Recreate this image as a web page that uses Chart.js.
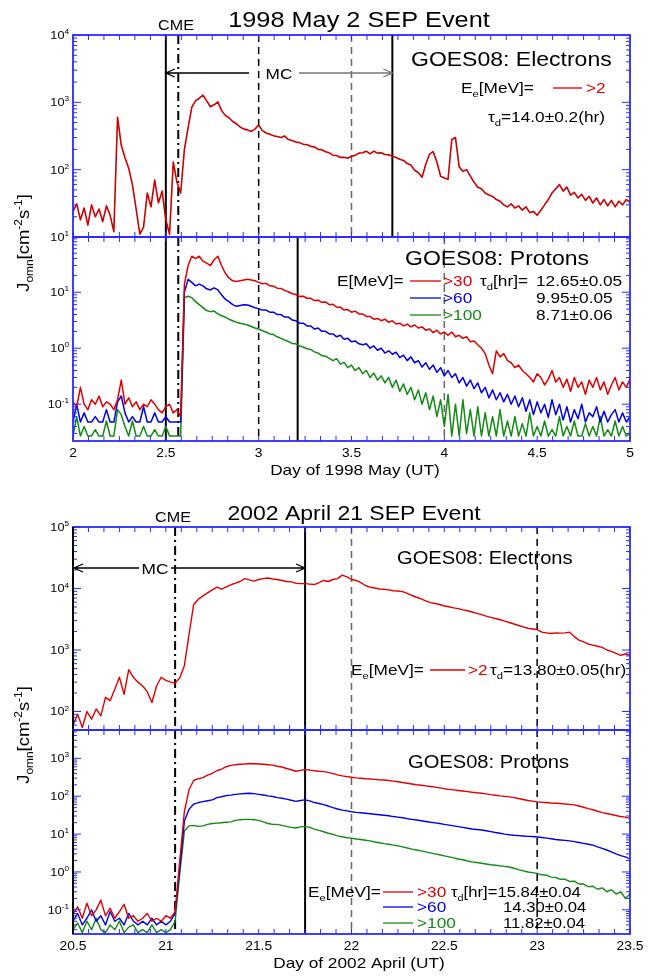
<!DOCTYPE html>
<html>
<head>
<meta charset="utf-8">
<script src="https://cdn.jsdelivr.net/npm/chart.js@4.4.0/dist/chart.umd.min.js"></script>
<style>
  body { margin: 0; background: #fff; }
  #wrap { position: relative; width: 653px; height: 980px; }
  canvas { position: absolute; left: 0; }
</style>
</head>
<body>
<div id="wrap">
  <canvas id="elec98" width="653" height="490" style="top:0"></canvas>
  <canvas id="prot98" width="653" height="490" style="top:0"></canvas>
  <canvas id="elec02" width="653" height="490" style="top:490px"></canvas>
  <canvas id="prot02" width="653" height="490" style="top:490px"></canvas>
</div>
<script>
// 1998 May 2 event, sampled every 0.02 day from day 2.00 to 5.00
const elec98 = [
  24, 31, 18, 27, 15, 30, 20, 26, 17, 29,
  21, 12, 600, 230, 150, 105, 60, 26, 11, 14,
  45, 28, 70, 32, 48, 18, 11, 130, 65, 45,
  200, 420, 850, 1050, 1150, 1280, 1050, 860, 920, 1020,
  760, 640, 590, 520, 480, 430, 400, 390, 370, 400,
  460, 380, 350, 335, 320, 310, 300, 315, 280, 272,
  258, 252, 238, 235, 222, 218, 200, 198, 184, 178,
  164, 162, 152, 153, 148, 158, 163, 176, 178, 188,
  172, 188, 176, 178, 168, 166, 158, 152, 143, 137,
  123, 117, 98, 90, 77, 120, 170, 185, 130, 80,
  75, 72, 280, 300, 110, 95, 100, 80, 65, 55,
  52, 45, 42, 40, 36, 34, 30, 28, 31, 27,
  29, 25, 28, 23, 24, 21, 25, 30, 36, 45,
  52, 60, 48, 55, 42, 46, 38, 43, 35, 40,
  32, 38, 30, 36, 29, 35, 28, 34, 30, 36,
  33
];
const p30_98 = [
  0.11, 0.09, 0.2, 0.1, 0.08, 0.12, 0.1, 0.14, 0.09, 0.11,
  0.1, 0.08, 0.12, 0.27, 0.1, 0.13, 0.09, 0.11, 0.08, 0.1,
  0.09, 0.12, 0.1, 0.08, 0.07, 0.09, 0.1, 0.07, 0.08, 0.06,
  14, 30, 44, 40, 44, 36, 33, 30, 38, 44,
  30, 22, 18, 16, 15.5, 16, 16.5, 17, 16.5, 16,
  15, 14.2, 14.4, 13, 12.8, 11.8, 11.7, 10.8, 10.2, 9.4,
  9.1, 8.4, 8.5, 7.8, 7.8, 7.1, 7.2, 6.6, 6.7, 6.0,
  6.1, 5.4, 5.4, 4.8, 4.9, 4.4, 4.6, 4.1, 4.1, 3.7,
  3.7, 3.3, 3.4, 3.1, 3.3, 2.9, 3.1, 2.7, 2.8, 2.5,
  2.7, 2.4, 2.6, 2.3, 2.4, 2.1, 2.2, 1.9, 2.1, 1.8,
  1.95, 1.7, 1.95, 1.6, 1.7, 1.5, 1.6, 1.3, 1.35, 1.15,
  1.0, 0.8, 0.5, 0.35, 0.9, 0.7, 0.8, 0.6, 0.55, 0.45,
  0.5, 0.4, 0.35, 0.3, 0.25, 0.35, 0.3, 0.22, 0.28, 0.4,
  0.25, 0.3, 0.2, 0.28, 0.17, 0.3, 0.2, 0.25, 0.15, 0.27,
  0.2, 0.3, 0.18, 0.25, 0.15, 0.22, 0.3, 0.18, 0.25, 0.2,
  0.28
];
const p60_98 = [
  0.048, 0.1, 0.048, 0.07, 0.048, 0.048, 0.06, 0.048, 0.048, 0.08,
  0.048, 0.048, 0.11, 0.14, 0.07, 0.048, 0.06, 0.048, 0.048, 0.09,
  0.048, 0.048, 0.07, 0.048, 0.048, 0.06, 0.048, 0.048, 0.048, 0.048,
  10, 17, 15, 13, 14, 13, 11.5, 11, 12, 11,
  9, 7.5, 6.8, 6, 5.6, 5.8, 6, 5.9, 5.6, 5.3,
  5.1, 4.8, 4.8, 4.4, 4.4, 4.0, 4.0, 3.6, 3.6, 3.2,
  3.1, 2.8, 2.8, 2.5, 2.5, 2.2, 2.3, 2.0, 2.0, 1.8,
  1.8, 1.6, 1.7, 1.45, 1.5, 1.3, 1.35, 1.2, 1.15, 1.2,
  1.0, 1.1, 0.92, 1.0, 0.82, 0.9, 0.78, 0.85, 0.68, 0.75,
  0.6, 0.7, 0.55, 0.6, 0.46, 0.55, 0.42, 0.5, 0.37, 0.45,
  0.32, 0.4, 0.3, 0.35, 0.24, 0.3, 0.21, 0.27, 0.19, 0.24,
  0.16, 0.2, 0.13, 0.18, 0.12, 0.16, 0.11, 0.15, 0.1, 0.14,
  0.09, 0.13, 0.075, 0.12, 0.065, 0.11, 0.07, 0.1, 0.058, 0.12,
  0.065, 0.1, 0.052, 0.09, 0.048, 0.08, 0.055, 0.1, 0.048, 0.07,
  0.06, 0.09, 0.048, 0.075, 0.048, 0.065, 0.08, 0.048, 0.07, 0.048,
  0.06
];
const p100_98 = [
  0.027, 0.06, 0.027, 0.04, 0.027, 0.027, 0.035, 0.027, 0.027, 0.05,
  0.027, 0.027, 0.08, 0.065, 0.04, 0.027, 0.05, 0.027, 0.027, 0.04,
  0.027, 0.027, 0.035, 0.027, 0.027, 0.04, 0.027, 0.027, 0.027, 0.027,
  8, 8.5, 8, 6.8, 6, 5.3, 4.7, 4.5, 4.6, 4.1,
  3.8, 3.6, 3.3, 3.1, 2.9, 2.8, 2.7, 2.6, 2.45, 2.3,
  2.2, 2.05, 1.95, 1.8, 1.75, 1.6, 1.5, 1.4, 1.32, 1.22,
  1.2, 1.1, 1.05, 0.98, 0.95, 0.86, 0.82, 0.74, 0.72, 0.66,
  0.6, 0.65, 0.52, 0.56, 0.45, 0.5, 0.4, 0.45, 0.35, 0.4,
  0.3, 0.36, 0.27, 0.32, 0.24, 0.3, 0.2, 0.27, 0.17, 0.23,
  0.15, 0.2, 0.12, 0.18, 0.1, 0.16, 0.08, 0.14, 0.06, 0.12,
  0.04, 0.15, 0.027, 0.1, 0.027, 0.12, 0.03, 0.08, 0.027, 0.09,
  0.027, 0.07, 0.027, 0.06, 0.027, 0.08, 0.027, 0.05, 0.027, 0.06,
  0.027, 0.045, 0.027, 0.07, 0.027, 0.04, 0.027, 0.05, 0.027, 0.035,
  0.027, 0.06, 0.027, 0.04, 0.027, 0.05, 0.027, 0.027, 0.045, 0.027,
  0.04, 0.027, 0.06, 0.027, 0.035, 0.027, 0.05, 0.027, 0.04, 0.027,
  0.03
];

// 2002 April 21 event, sampled every 0.025 day from day 20.5 to 23.5
const elec02 = [
  60, 90, 55, 100, 75, 110, 85, 170, 150, 230,
  360, 190, 480, 360, 300, 260, 210, 140, 260, 360,
  320, 300, 290, 350, 560, 1800, 5500, 6700, 7600, 8500,
  9500, 10500, 9800, 10600, 11500, 12200, 13000, 14500, 13800, 13200,
  14000, 14500, 14800, 14300, 14000, 13500, 13000, 12800, 12200, 12000,
  12000, 11800, 11600, 12500, 13500, 13000, 14000, 14500, 16500, 15500,
  14000, 13500, 12500, 11200, 10500, 10200, 9800, 9700, 9500, 9200,
  9100, 8900, 8300, 7700, 7200, 6800, 6300, 5900, 5700, 5500,
  5200, 5050, 4850, 4700, 4500, 4350, 4150, 3950, 3750, 3550,
  3400, 3250, 3100, 2950, 2800, 2650, 2500, 2380, 2260, 2200,
  2150, 1950, 1900, 1850, 1900, 1880, 1900, 1950, 1650, 1450,
  1350, 1250, 1200, 1150, 1100, 1000, 950, 880, 820, 860,
  820
];
const p30_02 = [
  0.08, 0.12, 0.06, 0.15, 0.07, 0.1, 0.18, 0.07, 0.11, 0.06,
  0.09, 0.14, 0.06, 0.07, 0.05, 0.06, 0.08, 0.05, 0.06, 0.05,
  0.07, 0.06, 0.09, 2, 40, 150, 260, 290, 310, 360,
  400, 470, 520, 600, 650, 680, 700, 710, 730, 720,
  710, 700, 680, 660, 620, 590, 540, 500, 455, 480,
  505, 490, 470, 455, 445, 425, 395, 365, 345, 330,
  316, 305, 298, 290, 285, 278, 272, 268, 260, 250,
  240, 230, 220, 210, 200, 195, 188, 180, 174, 166,
  158, 152, 147, 142, 137, 132, 127, 123, 120, 115,
  110, 106, 102, 99, 96, 92, 87, 82, 77, 74,
  71, 69, 68, 66, 65, 64, 62, 61, 59, 55,
  51, 47, 44, 40, 37, 35, 33, 31, 29, 28,
  26
];
const p60_02 = [
  0.05, 0.08, 0.04, 0.06, 0.1, 0.05, 0.07, 0.04, 0.09, 0.05,
  0.06, 0.04, 0.08, 0.05, 0.04, 0.05, 0.04, 0.06, 0.04, 0.05,
  0.04, 0.05, 0.08, 1.2, 22, 45, 62, 68, 72, 76,
  80, 92, 97, 104, 107, 112, 115, 118, 120, 117,
  112, 108, 102, 98, 92, 88, 84, 78, 73, 77,
  80, 75, 68, 64, 60, 55, 50, 46, 43, 41,
  39, 37.5, 36.5, 35.5, 34.5, 33.5, 32.5, 31.5, 30.5, 29,
  28, 27, 25.5, 24.5, 23.5, 22.5, 21.5, 20.5, 19.8, 19,
  18, 17.2, 16.5, 15.7, 15, 14.3, 13.6, 13.2, 12.8, 12.2,
  11.6, 11, 10.5, 10, 9.6, 9.3, 9.1, 8.9, 8.7, 8.6,
  8.4, 8.1, 7.8, 7.5, 7.2, 7, 6.8, 6.6, 6.3, 6,
  5.7, 5.4, 5.1, 4.6, 4.2, 3.8, 3.4, 3.0, 2.7, 2.5,
  2.2
];
const p100_02 = [
  0.03, 0.045, 0.025, 0.05, 0.03, 0.06, 0.03, 0.025, 0.04, 0.03,
  0.05, 0.025, 0.035, 0.04, 0.025, 0.03, 0.025, 0.04, 0.025, 0.03,
  0.025, 0.03, 0.05, 0.9, 12, 16.5, 17, 16, 16.5, 18,
  19, 19.5, 20, 20.5, 21, 23, 24, 24.5, 24.5, 24,
  23, 21, 19, 18, 18, 17, 16, 15, 14.5, 15.5,
  16, 15, 13.5, 12.5, 11.5, 10.5, 9.8, 9, 8.5, 8,
  7.8, 7.4, 7.2, 6.9, 6.6, 6.2, 5.9, 5.6, 5.4, 5.1,
  4.9, 4.6, 4.3, 4.0, 3.8, 3.6, 3.4, 3.2, 3.0, 2.85,
  2.65, 2.5, 2.35, 2.2, 2.1, 1.95, 1.85, 1.78, 1.7, 1.62,
  1.55, 1.5, 1.45, 1.4, 1.35, 1.25, 1.15, 1.07, 1.0, 0.96,
  0.92, 0.84, 0.82, 0.73, 0.72, 0.64, 0.64, 0.56, 0.57, 0.48,
  0.48, 0.41, 0.42, 0.35, 0.38, 0.3, 0.34, 0.26, 0.3, 0.2,
  0.26
];

const days98 = elec98.map((_, i) => 2 + i * 0.02);
const days02 = elec02.map((_, i) => 20.5 + i * 0.025);

const xTicks98 = [2, 2.5, 3, 3.5, 4, 4.5, 5];
const xTicks02 = [20.5, 21, 21.5, 22, 22.5, 23, 23.5];

// event markers: [day, line style]
const marks98e = [[2.5, 'solid'], [2.567, 'dashDot'], [3.0, 'dash'], [3.5, 'grayDash'], [3.72, 'solid']];
const marks98p = [[2.5, 'solid'], [2.567, 'dashDot'], [3.0, 'dash'], [3.21, 'solid'], [4.0, 'grayDash']];
const marks02 = [[20.5, 'solid'], [21.05, 'dashDot'], [21.75, 'solid'], [22.0, 'grayDash'], [23.0, 'dash']];

const FONT = '"Liberation Sans", Arial, sans-serif';
const SX = 1.15;
const AXIS = '#2b2bff';
const RED = '#e00000', BLUE = '#0000e6', GREEN = '#138a13';

const LINE = {
  solid: { color: '#000', w: 2, dash: [] },
  dash: { color: '#000', w: 1.5, dash: [7, 5] },
  grayDash: { color: '#666', w: 1.5, dash: [7, 5] },
  dashDot: { color: '#000', w: 2, dash: [9, 4, 2, 4] }
};

const T = (t, c) => ({ t, c });
const SUB = (t, c) => ({ t, c, sub: true });
const SUP = (t, c) => ({ t, c, sup: true });

// text with sub/superscripts, slightly widened
function rich(ctx, x, y, parts, size, align) {
  ctx.save();
  let w = 0;
  const items = parts.map(p => {
    const sz = (p.sub || p.sup) ? size * 0.65 : size;
    ctx.font = sz + 'px ' + FONT;
    const iw = ctx.measureText(p.t).width;
    w += iw;
    return Object.assign({ sz, iw }, p);
  });
  ctx.translate(x, y);
  ctx.scale(SX, 1);
  ctx.textAlign = 'left';
  ctx.textBaseline = 'alphabetic';
  let cx = align === 'right' ? -w : align === 'center' ? -w / 2 : 0;
  items.forEach(p => {
    ctx.font = p.sz + 'px ' + FONT;
    ctx.fillStyle = p.c || '#000';
    const dy = p.sub ? size * 0.28 : p.sup ? -size * 0.45 : 0;
    ctx.fillText(p.t, cx, dy);
    cx += p.iw;
  });
  ctx.restore();
}

function vline(chart, day, kind) {
  const ctx = chart.ctx, a = chart.chartArea, st = LINE[kind];
  const px = chart.scales.x.getPixelForValue(day);
  ctx.save();
  ctx.strokeStyle = st.color;
  ctx.lineWidth = st.w;
  ctx.setLineDash(st.dash);
  ctx.beginPath();
  ctx.moveTo(px, a.top);
  ctx.lineTo(px, a.bottom);
  ctx.stroke();
  ctx.restore();
}

function frame(chart) {
  const ctx = chart.ctx, a = chart.chartArea, xs = chart.scales.x, ys = chart.scales.y;
  ctx.save();
  ctx.strokeStyle = AXIS;
  ctx.lineWidth = 1.8;
  ctx.strokeRect(a.left, a.top, a.right - a.left, a.bottom - a.top);
  ctx.lineWidth = 1;
  ctx.beginPath();
  // two-hour ticks along top and bottom
  for (let k = 0; xs.min + k / 12 <= xs.max + 1e-9; k++) {
    const px = xs.getPixelForValue(xs.min + k / 12);
    ctx.moveTo(px, a.bottom); ctx.lineTo(px, a.bottom - 5);
    ctx.moveTo(px, a.top); ctx.lineTo(px, a.top + 5);
  }
  const lo = Math.floor(Math.log10(ys.min)), hi = Math.ceil(Math.log10(ys.max));
  for (let d = lo; d <= hi; d++) {
    for (let m = 1; m < 10; m++) {
      const v = m * Math.pow(10, d);
      if (v < ys.min || v > ys.max) continue;
      const py = ys.getPixelForValue(v), len = m === 1 ? 8 : 4;
      ctx.moveTo(a.left, py); ctx.lineTo(a.left + len, py);
      ctx.moveTo(a.right, py); ctx.lineTo(a.right - len, py);
    }
  }
  ctx.stroke();
  ctx.restore();
  for (let d = lo; d <= hi; d++) {
    const v = Math.pow(10, d);
    if (v < ys.min * 0.999 || v > ys.max * 1.001) continue;
    rich(ctx, 69, ys.getPixelForValue(v) + 4, [T('10'), SUP(String(d))], 11, 'right');
  }
}

function xLabels(chart, ticks, base, title, titleX) {
  const xs = chart.scales.x;
  ticks.forEach(t => rich(chart.ctx, xs.getPixelForValue(t), base, [T(String(t))], 12, 'center'));
  rich(chart.ctx, titleX, base + 18, [T(title)], 15, 'center');
}

function yTitle(ctx, cx, cy) {
  ctx.save();
  ctx.translate(cx, cy);
  ctx.rotate(-Math.PI / 2);
  rich(ctx, 0, 6, [T('J'), SUB('omn'), T('[cm'), SUP('-2'), T('s'), SUP('-1'), T(']')], 16, 'center');
  ctx.restore();
}

function arrow(ctx, x1, x2, y, color, head) {
  ctx.save();
  ctx.strokeStyle = color;
  ctx.lineWidth = 1.3;
  ctx.beginPath();
  ctx.moveTo(x1, y); ctx.lineTo(x2, y);
  if (head === 'left') { ctx.moveTo(x1 + 9, y - 4); ctx.lineTo(x1, y); ctx.lineTo(x1 + 9, y + 4); }
  if (head === 'right') { ctx.moveTo(x2 - 9, y - 4); ctx.lineTo(x2, y); ctx.lineTo(x2 - 9, y + 4); }
  ctx.stroke();
  ctx.restore();
}

function keyLine(ctx, x1, x2, y, color) {
  ctx.save();
  ctx.strokeStyle = color;
  ctx.lineWidth = 1.3;
  ctx.beginPath(); ctx.moveTo(x1, y); ctx.lineTo(x2, y); ctx.stroke();
  ctx.restore();
}

function series(days, vals, color, width) {
  return {
    data: vals.map((v, i) => ({ x: days[i], y: v })),
    borderColor: color,
    borderWidth: width,
    borderJoinStyle: 'round',
    pointRadius: 0,
    tension: 0
  };
}

function makePanel(id, pad, xRange, yRange, datasets, marks, after) {
  return new Chart(document.getElementById(id), {
    type: 'line',
    data: { datasets },
    options: {
      responsive: false,
      animation: false,
      devicePixelRatio: 1,
      events: [],
      layout: { padding: pad },
      plugins: { legend: { display: false }, tooltip: { enabled: false } },
      scales: {
        x: { type: 'linear', min: xRange[0], max: xRange[1], display: false },
        y: { type: 'logarithmic', min: yRange[0], max: yRange[1], display: false }
      }
    },
    plugins: [{
      id: 'panelDeco',
      beforeDatasetsDraw: c => marks.forEach(m => vline(c, m[0], m[1])),
      afterDraw: c => {
        frame(c);
        marks.filter(m => m[0] === c.scales.x.min).forEach(m => vline(c, m[0], m[1]));
        after(c);
      }
    }]
  });
}

// ---- 1998 May 2: electrons ----
makePanel('elec98', { left: 73, right: 23, top: 35, bottom: 253 }, [2, 5], [10, 10000],
  [series(days98, elec98, '#cc0000', 1.6)], marks98e, c => {
    const ctx = c.ctx, xs = c.scales.x;
    rich(ctx, 359, 27, [T('1998 May 2 SEP Event')], 22, 'center');
    rich(ctx, 176, 30, [T('CME')], 14, 'center');
    arrow(ctx, xs.getPixelForValue(2.5), 249, 73, '#000', 'left');
    rich(ctx, 279, 79, [T('MC')], 15, 'center');
    arrow(ctx, 299, xs.getPixelForValue(3.72), 73, '#777', 'right');
    rich(ctx, 411, 66, [T('GOES08: Electrons')], 20);
    rich(ctx, 461, 93, [T('E'), SUB('e'), T('[MeV]=')], 15);
    keyLine(ctx, 553, 582, 88, RED);
    rich(ctx, 586, 93, [T('>2', RED)], 15);
    rich(ctx, 488, 122, [T('\u03c4'), SUB('d'), T('=14.0\u00b10.2(hr)')], 15);
  });

// ---- 1998 May 2: protons ----
makePanel('prot98', { left: 73, right: 23, top: 237, bottom: 49 }, [2, 5], [0.022, 97],
  [series(days98, p30_98, RED, 1.5), series(days98, p60_98, BLUE, 1.5), series(days98, p100_98, GREEN, 1.5)],
  marks98p, c => {
    const ctx = c.ctx;
    rich(ctx, 405, 265, [T('GOES08: Protons')], 20);
    rich(ctx, 337, 286, [T('E[MeV]=')], 15);
    keyLine(ctx, 410, 441, 281, RED);
    rich(ctx, 443, 286, [T('>30', RED)], 15);
    rich(ctx, 480, 286, [T('\u03c4'), SUB('d'), T('[hr]=')], 15);
    rich(ctx, 536, 286, [T('12.65\u00b10.05')], 15);
    keyLine(ctx, 410, 441, 298, BLUE);
    rich(ctx, 443, 303, [T('>60', BLUE)], 15);
    rich(ctx, 536, 303, [T('9.95\u00b10.05')], 15);
    keyLine(ctx, 410, 441, 315, GREEN);
    rich(ctx, 443, 320, [T('>100', GREEN)], 15);
    rich(ctx, 536, 320, [T('8.71\u00b10.06')], 15);
    xLabels(c, xTicks98, 457, 'Day of 1998 May (UT)', 355);
    yTitle(ctx, 23, 243);
  });

// ---- 2002 April 21: electrons ----
makePanel('elec02', { left: 73, right: 23, top: 37, bottom: 250 }, [20.5, 23.5], [50, 100000],
  [series(days02, elec02, RED, 1.4)], marks02, c => {
    const ctx = c.ctx, xs = c.scales.x;
    rich(ctx, 354, 30, [T('2002 April 21 SEP Event')], 20, 'center');
    rich(ctx, 173, 32, [T('CME')], 14, 'center');
    arrow(ctx, 74, 139, 78, '#000', 'left');
    rich(ctx, 155, 84, [T('MC')], 15, 'center');
    arrow(ctx, 171, xs.getPixelForValue(21.75), 78, '#000', 'right');
    rich(ctx, 397, 74, [T('GOES08: Electrons')], 17.5);
    rich(ctx, 351, 185, [T('E'), SUB('e'), T('[MeV]=')], 15);
    keyLine(ctx, 430, 465, 180, RED);
    rich(ctx, 468, 185, [T('>2', RED)], 15);
    rich(ctx, 490, 185, [T('\u03c4'), SUB('d'), T('=13.80\u00b10.05(hr)')], 15);
  });

// ---- 2002 April 21: protons ----
makePanel('prot02', { left: 73, right: 23, top: 240, bottom: 46 }, [20.5, 23.5], [0.023, 5600],
  [series(days02, p30_02, RED, 1.4), series(days02, p60_02, BLUE, 1.4), series(days02, p100_02, GREEN, 1.4)],
  marks02, c => {
    const ctx = c.ctx;
    rich(ctx, 408, 278, [T('GOES08: Protons')], 17.5);
    rich(ctx, 308, 407, [T('E'), SUB('e'), T('[MeV]=')], 15);
    keyLine(ctx, 383, 413, 402, RED);
    rich(ctx, 417, 407, [T('>30', RED)], 15);
    rich(ctx, 451, 407, [T('\u03c4'), SUB('d'), T('[hr]=15.84\u00b10.04')], 14.5);
    keyLine(ctx, 383, 413, 417, BLUE);
    rich(ctx, 417, 422, [T('>60', BLUE)], 15);
    rich(ctx, 503, 422, [T('14.30\u00b10.04')], 14.5);
    keyLine(ctx, 383, 413, 433, GREEN);
    rich(ctx, 417, 438, [T('>100', GREEN)], 15);
    rich(ctx, 503, 438, [T('11.82\u00b10.04')], 14.5);
    xLabels(c, xTicks02, 460, 'Day of 2002 April (UT)', 359);
    yTitle(ctx, 23, 245);
  });
</script>
</body>
</html>
